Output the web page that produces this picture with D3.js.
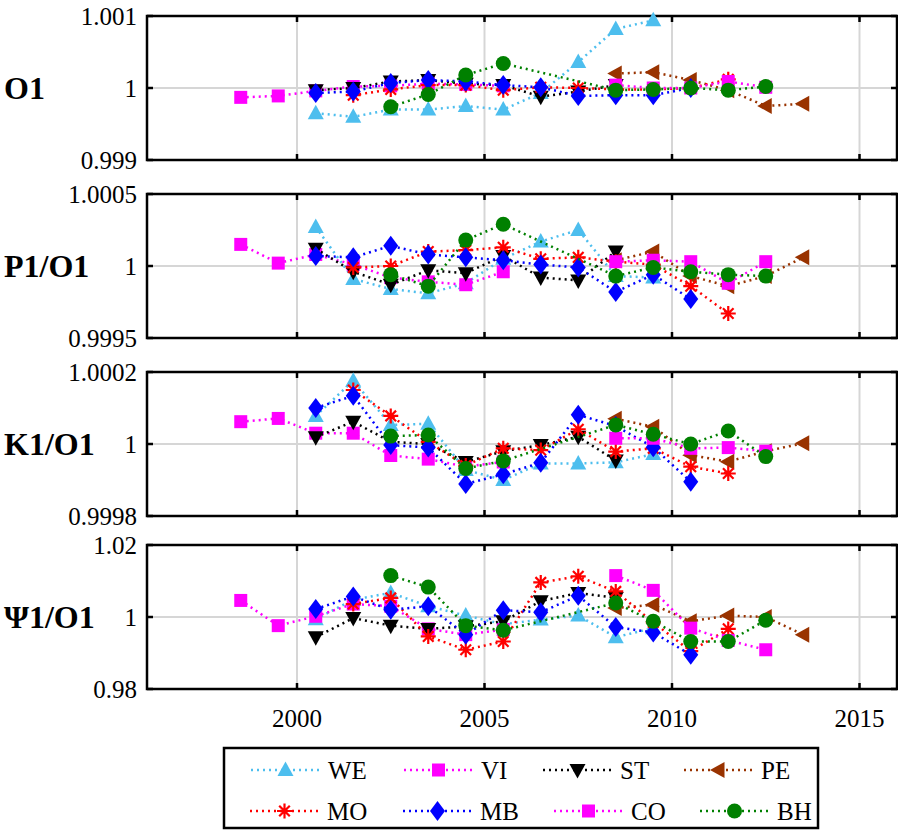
<!DOCTYPE html>
<html><head><meta charset="utf-8">
<script src="https://cdn.jsdelivr.net/npm/d3@7"></script>
<style>body{margin:0;background:#fff} svg{display:block}</style>
</head><body>
<script>
const _ = null;
const years = [1998.5,1999.5,2000.5,2001.5,2002.5,2003.5,2004.5,2005.5,2006.5,2007.5,2008.5,2009.5,2010.5,2011.5,2012.5,2013.5];
const stations = ["WE","VI","ST","PE","MO","MB","CO","BH"];
const colors = ["#4DBEEE","#FF00FF","#000000","#993300","#FF0000","#0000FF","#FF00FF","#008000"];
const markers = ["triUp","square","triDown","triLeft","star","diamond","square","circle"];
const panelLabels = ["O1","P1/O1","K1/O1","\u03A81/O1"];
const xTicks = [2000,2005,2010,2015];
const O1_ticks = [0.999,1,1.001];
const P1_ticks = [0.9995,1,1.0005];
const K1_ticks = [0.9998,1,1.0002];
const PSI_ticks = [0.98,1,1.02];
const O1_tickLabels = ["0.999","1","1.001"];
const P1_tickLabels = ["0.9995","1","1.0005"];
const K1_tickLabels = ["0.9998","1","1.0002"];
const PSI_tickLabels = ["0.98","1","1.02"];

// O1
const O1_WE = [_,_,0.99965,0.99960,0.99970,0.99970,0.99975,0.99970,0.99993,1.00036,1.00082,1.00094,_,_,_,_];
const O1_VI = [0.99987,0.99989,0.99996,1.00002,1.00003,1.00006,1.00005,1.00003,_,_,_,_,_,_,_,_];
const O1_ST = [_,_,0.99997,1.00000,1.00009,1.00011,1.00006,1.00004,0.99988,0.99995,1.00004,_,_,_,_,_];
const O1_PE = [_,_,_,_,_,_,_,_,_,_,1.00020,1.00022,1.00011,0.99997,0.99975,0.99978];
const O1_MO = [_,_,_,0.99990,0.99998,1.00004,1.00004,0.99997,1.00001,1.00000,0.99998,0.99998,1.00000,1.00012,_,_];
const O1_MB = [_,_,0.99993,0.99995,1.00007,1.00011,1.00009,1.00004,1.00001,0.99989,0.99990,0.99990,1.00000,_,_,_];
const O1_CO = [_,_,_,_,_,_,_,_,_,_,1.00004,1.00000,1.00000,1.00009,1.00001,_];
const O1_BH = [_,_,_,_,0.99974,0.99991,1.00018,1.00034,_,_,0.99997,0.99998,1.00000,0.99997,1.00002,_];
// P1/O1
const P1_WE = [_,_,1.00027,0.99991,0.99984,0.99981,0.99988,1.00005,1.00017,1.00025,0.99993,0.99992,_,_,_,_];
const P1_VI = [1.00015,1.00002,1.00008,1.00001,0.99992,0.99989,0.99987,0.99996,_,_,_,_,_,_,_,_];
const P1_ST = [_,_,1.00012,0.99996,0.99987,0.99997,0.99995,1.00007,0.99992,0.99990,1.00010,_,_,_,_,_];
const P1_PE = [_,_,_,_,_,_,_,_,_,_,1.00004,1.00010,0.99993,0.99986,0.99993,1.00006];
const P1_MO = [_,_,_,0.99999,1.00000,1.00010,1.00011,1.00013,1.00005,1.00006,1.00003,1.00001,0.99986,0.99967,_,_];
const P1_MB = [_,_,1.00007,1.00006,1.00014,1.00008,1.00006,1.00004,1.00001,0.99999,0.99982,0.99994,0.99977,_,_,_];
const P1_CO = [_,_,_,_,_,_,_,_,_,_,1.00003,1.00004,1.00003,0.99988,1.00003,_];
const P1_BH = [_,_,_,_,0.99994,0.99986,1.00018,1.00029,_,_,0.99993,0.99999,0.99996,0.99994,0.99993,_];
// K1/O1
const K1_WE = [_,_,1.000078,1.000176,1.000053,1.000056,0.999928,0.999900,0.999946,0.999946,0.999949,0.999972,_,_,_,_];
const K1_VI = [1.000062,1.000071,1.000030,1.000030,0.999968,0.999958,0.999937,0.999950,_,_,_,_,_,_,_,_];
const K1_ST = [_,_,1.000019,1.000062,1.000006,1.000000,0.999950,0.999980,0.999997,1.000020,0.999954,_,_,_,_,_];
const K1_PE = [_,_,_,_,_,_,_,_,_,_,1.000070,1.000048,0.999969,0.999951,0.999980,1.000002];
const K1_MO = [_,_,_,1.000150,1.000078,1.000006,0.999940,0.999988,0.999983,1.000041,0.999979,0.999988,0.999937,0.999918,_,_];
const K1_MB = [_,_,1.000100,1.000134,0.999997,0.999990,0.999889,0.999916,0.999948,1.000081,1.000050,0.999991,0.999895,_,_,_];
const K1_CO = [_,_,_,_,_,_,_,_,_,_,1.000016,1.000016,0.999988,0.999990,0.999980,_];
const K1_BH = [_,_,_,_,1.000022,1.000025,0.999932,0.999953,_,_,1.000053,1.000027,1.000000,1.000036,0.999965,_];
// Psi1/O1
const PSI_WE = [_,_,0.9994,1.0048,1.0067,1.0030,1.0004,0.9980,0.9993,1.0004,0.9944,0.9969,_,_,_,_];
const PSI_VI = [1.0046,0.9976,1.0002,1.0036,1.0030,0.9967,0.9951,0.9965,_,_,_,_,_,_,_,_];
const PSI_ST = [_,_,0.9944,0.9997,0.9976,0.9967,0.9974,0.9988,1.0044,1.0067,1.0053,_,_,_,_,_];
const PSI_PE = [_,_,_,_,_,_,_,_,_,_,1.0025,1.0034,0.9988,1.0004,1.0000,0.9951];
const PSI_MO = [_,_,_,1.0036,1.0053,0.9946,0.9909,0.9932,1.0096,1.0113,1.0071,0.9985,0.9905,0.9967,_,_];
const PSI_MB = [_,_,1.0022,1.0057,1.0020,1.0030,0.9951,1.0019,1.0013,1.0059,0.9972,0.9957,0.9895,_,_,_];
const PSI_CO = [_,_,_,_,_,_,_,_,_,_,1.0115,1.0074,0.9969,0.9935,0.9909,_];
const PSI_BH = [_,_,_,_,1.0115,1.0083,0.9976,0.9963,_,_,1.0039,0.9988,0.9932,0.9932,0.9991,_];

const panels = [
  {label: panelLabels[0], ticks: O1_ticks, tickLabels: O1_tickLabels, series: [O1_WE,O1_VI,O1_ST,O1_PE,O1_MO,O1_MB,O1_CO,O1_BH]},
  {label: panelLabels[1], ticks: P1_ticks, tickLabels: P1_tickLabels, series: [P1_WE,P1_VI,P1_ST,P1_PE,P1_MO,P1_MB,P1_CO,P1_BH]},
  {label: panelLabels[2], ticks: K1_ticks, tickLabels: K1_tickLabels, series: [K1_WE,K1_VI,K1_ST,K1_PE,K1_MO,K1_MB,K1_CO,K1_BH]},
  {label: panelLabels[3], ticks: PSI_ticks, tickLabels: PSI_tickLabels, series: [PSI_WE,PSI_VI,PSI_ST,PSI_PE,PSI_MO,PSI_MB,PSI_CO,PSI_BH]}
];

const W = 898, H = 832;
const FONT = "Liberation Serif";
const svg = d3.select("body").append("svg").attr("width", W).attr("height", H);
const x = d3.scaleLinear().domain([1996, 2016]).range([147, 897]);
const panelTops = [16, 194, 372, 545];
const panelH = 144;

function markerPath(type) {
  switch (type) {
    case "triUp": return "M0,-8.5L8,6L-8,6Z";
    case "triDown": return "M0,8.5L8,-6L-8,-6Z";
    case "triLeft": return "M-8.5,0L6,-8L6,8Z";
    case "square": return "M-6.5,-6.5H6.5V6.5H-6.5Z";
    case "diamond": return "M0,-10L7.5,0L0,10L-7.5,0Z";
    case "circle": return "M7.5,0A7.5,7.5 0 1,1 -7.5,0A7.5,7.5 0 1,1 7.5,0Z";
    case "star": return "M-7.5,0H7.5M0,-7.5V7.5M-5.3,-5.3L5.3,5.3M-5.3,5.3L5.3,-5.3";
  }
}
function drawMarker(g, type, color, cx, cy) {
  const p = g.append("path").attr("d", markerPath(type)).attr("transform", `translate(${cx},${cy})`);
  if (type === "star") p.attr("fill", "none").attr("stroke", color).attr("stroke-width", 2.2);
  else p.attr("fill", color).attr("stroke", "none");
}

panels.forEach((pnl, pi) => {
  const top = panelTops[pi], bottom = top + panelH;
  const y = d3.scaleLinear().domain([pnl.ticks[0], pnl.ticks[2]]).range([bottom, top]);
  const g = svg.append("g");
  xTicks.forEach(t => g.append("line").attr("x1", x(t)).attr("x2", x(t)).attr("y1", top).attr("y2", bottom)
    .attr("stroke", "#d6d6d6").attr("stroke-width", 2));
  g.append("line").attr("x1", x.range()[0]).attr("x2", x.range()[1]).attr("y1", y(pnl.ticks[1])).attr("y2", y(pnl.ticks[1]))
    .attr("stroke", "#d6d6d6").attr("stroke-width", 2);
  g.append("rect").attr("x", x.range()[0]).attr("y", top).attr("width", x.range()[1] - x.range()[0]).attr("height", panelH)
    .attr("fill", "none").attr("stroke", "#000").attr("stroke-width", 2.5);
  xTicks.forEach(t => {
    g.append("line").attr("x1", x(t)).attr("x2", x(t)).attr("y1", top).attr("y2", top + 6).attr("stroke", "#000").attr("stroke-width", 2.5);
    g.append("line").attr("x1", x(t)).attr("x2", x(t)).attr("y1", bottom).attr("y2", bottom - 6).attr("stroke", "#000").attr("stroke-width", 2.5);
  });
  pnl.ticks.forEach((t, i) => {
    g.append("line").attr("x1", x.range()[0]).attr("x2", x.range()[0] + 6).attr("y1", y(t)).attr("y2", y(t)).attr("stroke", "#000").attr("stroke-width", 2.5);
    g.append("line").attr("x1", x.range()[1]).attr("x2", x.range()[1] - 6).attr("y1", y(t)).attr("y2", y(t)).attr("stroke", "#000").attr("stroke-width", 2.5);
    g.append("text").attr("x", 137).attr("y", y(t)).attr("dy", "0.35em").attr("text-anchor", "end")
      .attr("font-family", FONT).attr("font-size", 25).text(pnl.tickLabels[i]);
  });
  g.append("text").attr("x", 4).attr("y", y(pnl.ticks[1])).attr("dy", "0.35em")
    .attr("font-family", FONT).attr("font-weight", "bold").attr("font-size", 32).text(pnl.label);
  pnl.series.forEach((vals, si) => {
    const pts = years.map((yr, i) => [yr, vals[i]]).filter(d => d[1] !== null);
    const line = d3.line().x(d => x(d[0])).y(d => y(d[1]));
    g.append("path").attr("d", line(pts)).attr("fill", "none").attr("stroke", colors[si])
      .attr("stroke-width", 2.5).attr("stroke-dasharray", "2,4");
    pts.forEach(d => drawMarker(g, markers[si], colors[si], x(d[0]), y(d[1])));
  });
  if (pi === panels.length - 1) {
    xTicks.forEach(t => g.append("text").attr("x", x(t)).attr("y", bottom + 29).attr("dy", "0.35em")
      .attr("text-anchor", "middle").attr("font-family", FONT).attr("font-size", 25).text(t));
  }
});

const lg = svg.append("g");
lg.append("rect").attr("x", 224).attr("y", 748).attr("width", 594).attr("height", 80)
  .attr("fill", "#fff").attr("stroke", "#000").attr("stroke-width", 2.5);
const legendRowY = [770, 811];
const legendLineStart = [[251, 404, 543, 684], [250, 403, 554, 700]];
const legendLineLen = 69;
stations.forEach((s, i) => {
  const r = Math.floor(i / 4), c = i % 4;
  const x0 = legendLineStart[r][c], yy = legendRowY[r];
  lg.append("line").attr("x1", x0).attr("x2", x0 + legendLineLen).attr("y1", yy).attr("y2", yy)
    .attr("stroke", colors[i]).attr("stroke-width", 2.5).attr("stroke-dasharray", "2,4");
  drawMarker(lg, markers[i], colors[i], x0 + legendLineLen / 2, yy);
  lg.append("text").attr("x", x0 + legendLineLen + 8).attr("y", yy).attr("dy", "0.35em")
    .attr("font-family", FONT).attr("font-size", 25).text(s);
});
</script>
</body></html>
